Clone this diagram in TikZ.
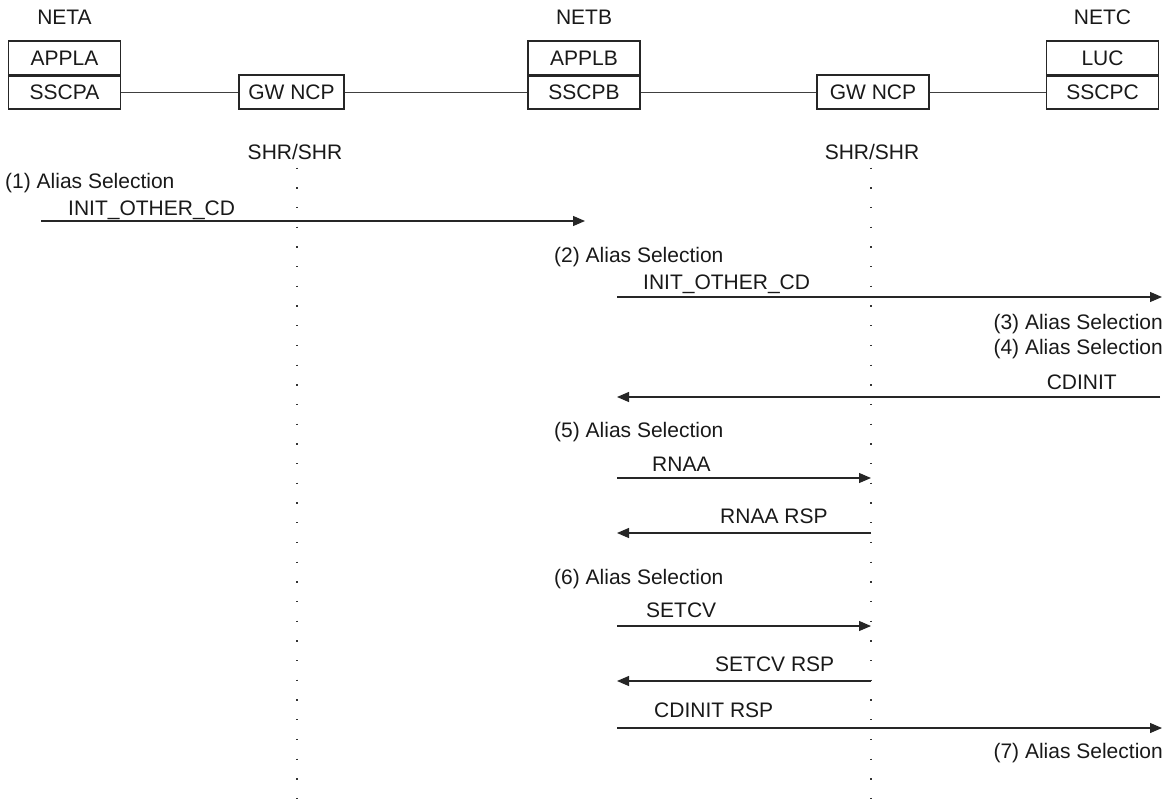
\documentclass[tikz,border=0pt]{standalone}
\usepackage{fontspec}
\setmainfont{Liberation Sans}
\usetikzlibrary{arrows.meta}
\begin{document}
\begin{tikzpicture}[x=1pt,y=-1pt,
  every node/.style={font=\fontsize{21pt}{25pt}\selectfont, inner sep=0pt, text=black!90},
  lbl/.style={anchor=base west},
  lblr/.style={anchor=base east},
  ttl/.style={anchor=base},
  boxnode/.style={draw=black!85, line width=1.1pt, minimum width=112pt, minimum height=34pt, anchor=center},
  gwnode/.style={boxnode, minimum width=#1},
  divider/.style={draw=black!85, line width=2pt},
  link/.style={draw=black!75, line width=0.9pt},
  msg/.style={draw=black!85, line width=1.2pt, -{Triangle[length=12pt,width=10pt]}},
  life/.style={draw=black!80, line width=1.3pt, dash pattern=on 1.3pt off 18.4pt},
]
\useasboundingbox (0,0) rectangle (1166,803);

% titles
\node[ttl] (neta) at (64.5,24) {NETA};
\node[ttl] (netb) at (584,24) {NETB};
\node[ttl] (netc) at (1102.5,24) {NETC};

% boxes
\node[boxnode] (appla) at (64.5,58) {APPLA};
\node[boxnode] (sscpa) at (64.5,92) {SSCPA};
\node[gwnode=105pt] (gw1) at (291.5,92) {GW NCP};
\node[boxnode] (applb) at (584,58) {APPLB};
\node[boxnode] (sscpb) at (584,92) {SSCPB};
\node[gwnode=112pt] (gw2) at (873,92) {GW NCP};
\node[boxnode] (luc) at (1102.5,58) {LUC};
\node[boxnode] (sscpc) at (1102.5,92) {SSCPC};
\draw[divider] (appla.south west) -- (appla.south east);
\draw[divider] (applb.south west) -- (applb.south east);
\draw[divider] (luc.south west) -- (luc.south east);

\draw[link] (sscpa.east) -- (gw1.west);
\draw[link] (gw1.east) -- (sscpb.west);
\draw[link] (sscpb.east) -- (gw2.west);
\draw[link] (gw2.east) -- (sscpc.west);

% lifelines
\node[ttl] (shr1) at (295,159) {SHR/SHR};
\node[ttl] (shr2) at (872,159) {SHR/SHR};
\coordinate (l1t) at (297,167.5);
\coordinate (l1b) at (297,799);
\coordinate (l2t) at (871,167.5);
\coordinate (l2b) at (871,799);
\draw[life] (l1t) -- (l1b);
\draw[life] (l2t) -- (l2b);

% message endpoints
\coordinate (a1s) at (41,221);   \coordinate (a1e) at (585,221);
\coordinate (a2s) at (617,297);  \coordinate (a2e) at (1162,297);
\coordinate (a3s) at (1160,397); \coordinate (a3e) at (617,397);
\coordinate (a4s) at (617,478);  \coordinate (a4e) at (871,478);
\coordinate (a5s) at (871,533);  \coordinate (a5e) at (617,533);
\coordinate (a6s) at (617,626);  \coordinate (a6e) at (871,626);
\coordinate (a7s) at (871,681);  \coordinate (a7e) at (617,681);
\coordinate (a8s) at (617,728);  \coordinate (a8e) at (1162,728);

% labels
\node[lbl] (t1) at (5,188) {(1) Alias Selection};
\node[lbl] (m1) at (68,215) {INIT\_OTHER\_CD};
\node[lbl] (t2) at (554,262) {(2) Alias Selection};
\node[lbl] (m2) at (643,289) {INIT\_OTHER\_CD};
\node[lblr] (t3) at (1163,329) {(3) Alias Selection};
\node[lblr] (t4) at (1163,354) {(4) Alias Selection};
\node[lblr] (m3) at (1117,389) {CDINIT};
\node[lbl] (t5) at (554,437) {(5) Alias Selection};
\node[lbl] (m4) at (652,471) {RNAA};
\node[lbl] (m5) at (720,523) {RNAA RSP};
\node[lbl] (t6) at (554,584) {(6) Alias Selection};
\node[lbl] (m6) at (646,617) {SETCV};
\node[lbl] (m7) at (715,671) {SETCV RSP};
\node[lbl] (m8) at (654,717) {CDINIT RSP};
\node[lblr] (t7) at (1163,758) {(7) Alias Selection};

% arrows
\draw[msg] (a1s) -- (a1e);
\draw[msg] (a2s) -- (a2e);
\draw[msg] (a3s) -- (a3e);
\draw[msg] (a4s) -- (a4e);
\draw[msg] (a5s) -- (a5e);
\draw[msg] (a6s) -- (a6e);
\draw[msg] (a7s) -- (a7e);
\draw[msg] (a8s) -- (a8e);
\end{tikzpicture}
\end{document}
